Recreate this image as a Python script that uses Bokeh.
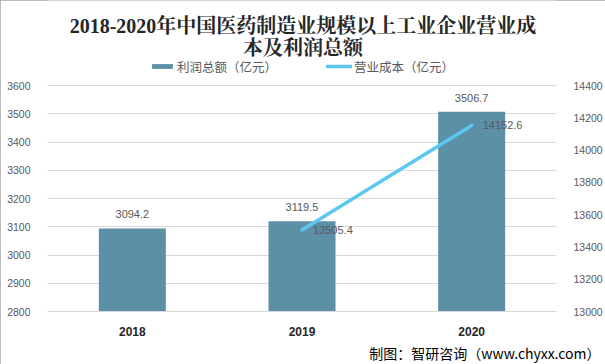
from bokeh.plotting import figure
from bokeh.models import (Range1d, FactorRange, LinearAxis, FixedTicker, Title, Label,
                          Legend, LegendItem, ColumnDataSource)
from bokeh.core.properties import value
from bokeh.embed import file_html
from bokeh.resources import INLINE

# ---- data ----
years = ["2018", "2019", "2020"]
profit = [3094.2, 3119.5, 3506.7]            # 利润总额（亿元）
cost_years = ["2019", "2020"]
cost = [13505.4, 14152.6]                      # 营业成本（亿元）
left_ticks = [2800, 2900, 3000, 3100, 3200, 3300, 3400, 3500, 3600]
right_ticks = [13000, 13200, 13400, 13600, 13800, 14000, 14200, 14400]
title_lines = ["2018-2020年中国医药制造业规模以上工业企业营业成", "本及利润总额"]
series_names = ["利润总额（亿元）", "营业成本（亿元）"]
footer_text = "制图：智研咨询（www.chyxx.com）"

BAR = "#5B90A6"
LINE = "#5CC8F0"
LBL = "#595959"
CJK = "Noto Sans CJK SC"
NUM = "Liberation Sans"

W, H = 605, 364
ML, MR, MB = 47, 44, 53
PLOT_TOP = 85            # pixel row of the top gridline
FB = H - MB              # frame bottom pixel row
# the frame reaches the top of the canvas; extend ranges so the ticks land on the plot area
ext = PLOT_TOP / (FB - PLOT_TOP)
y1 = (left_ticks[0], left_ticks[-1] + (left_ticks[-1] - left_ticks[0]) * ext)
y2 = (right_ticks[0], right_ticks[-1] + (right_ticks[-1] - right_ticks[0]) * ext)

p = figure(width=W, height=H, output_backend="svg", toolbar_location=None,
           title_location=None,
           x_range=FactorRange(factors=years, range_padding=0),
           y_range=Range1d(*y1),
           min_border_left=ML, min_border_right=MR, min_border_top=0, min_border_bottom=MB)
p.extra_y_ranges = {"y2": Range1d(*y2)}
p.outline_line_color = None
p.background_fill_color = "white"
p.border_fill_color = "white"
p.styles = {"outline": "1px solid #A6A6A6", "outline-offset": "-1px"}

src = ColumnDataSource(dict(x=years, y=profit, t=[f"{v:.1f}" for v in profit]))
bars = p.vbar(x="x", top="y", bottom=left_ticks[0], width=0.395, source=src,
              fill_color=BAR, line_color=None)
p.text(x="x", y="y", text="t", source=src, text_align="center", text_baseline="middle",
       y_offset=-14, text_font=value(NUM), text_font_size="11px", text_color=LBL)

src2 = ColumnDataSource(dict(x=cost_years, y=cost, t=[f"{v:.1f}" for v in cost]))
ln = p.line(x="x", y="y", source=src2, y_range_name="y2", line_color=LINE, line_width=3.5,
            line_cap="round")
p.text(x="x", y="y", text="t", source=src2, y_range_name="y2", text_align="left",
       text_baseline="middle", x_offset=11, text_font=value(NUM), text_font_size="11px",
       text_color=LBL)

# axes
p.yaxis.ticker = FixedTicker(ticks=left_ticks)
ax2 = LinearAxis(y_range_name="y2", ticker=FixedTicker(ticks=right_ticks))
p.add_layout(ax2, "right")
for ax in [p.yaxis[0], ax2]:
    ax.axis_line_color = None
    ax.major_tick_line_color = None
    ax.minor_tick_line_color = None
    ax.major_label_text_font = NUM
    ax.major_label_text_font_size = "10.5px"
    ax.major_label_text_color = LBL
    ax.major_label_standoff = 11

p.xaxis.axis_line_color = "#D9D9D9"
p.xaxis.major_tick_line_color = None
p.xaxis.minor_tick_line_color = None
p.xaxis.major_label_text_font = NUM
p.xaxis.major_label_text_font_style = "bold"
p.xaxis.major_label_text_font_size = "12px"
p.xaxis.major_label_text_color = "#262626"
p.xaxis.major_label_standoff = 9
p.xgrid.grid_line_color = None
p.ygrid.grid_line_color = "#D9D9D9"

# title (screen units relative to the frame: x from left, y up from frame bottom)
for i, t in enumerate(title_lines):
    p.add_layout(Label(x=302.5 - ML, y=FB - (25 + 22 * i), x_units="screen", y_units="screen",
                       text=t, text_align="center", text_baseline="middle",
                       text_font="'Liberation Serif', 'Noto Serif CJK SC', 'Noto Sans CJK SC'",
                       text_font_style="bold", text_font_size="20px", text_color="#262626"))

# legend
leg = Legend(items=[LegendItem(label=series_names[0], renderers=[bars]),
                    LegendItem(label=series_names[1], renderers=[ln])],
             orientation="horizontal", location=(149 - ML, FB - 75.5),
             glyph_width=26, glyph_height=6, label_height=6, label_standoff=2, spacing=49,
             padding=0, margin=0, border_line_color=None, background_fill_alpha=0,
             label_text_font=CJK, label_text_font_size="12.5px", label_text_color=LBL)
p.add_layout(leg, "center")

# footer
p.add_layout(Title(text=footer_text, align="right", offset=-44, standoff=4,
                   text_font=CJK, text_font_style="normal", text_font_size="14px",
                   text_color="#000000"), "below")

open("out.html", "w").write(file_html(p, INLINE))
